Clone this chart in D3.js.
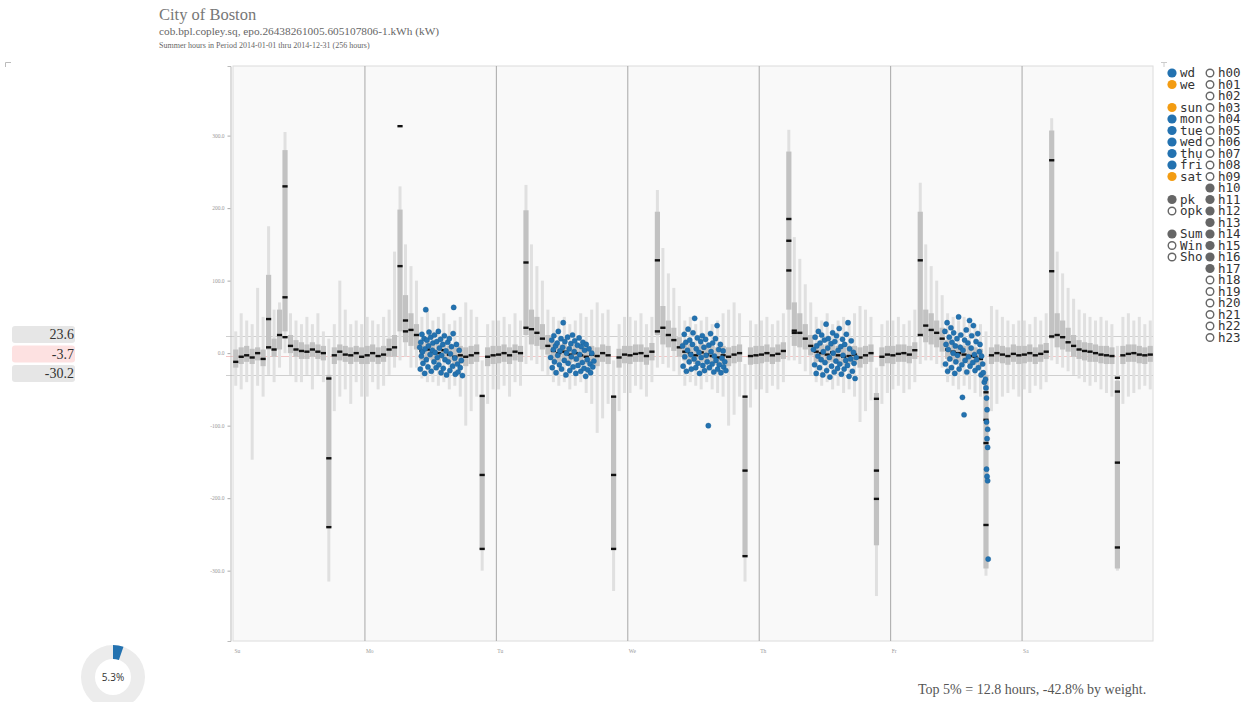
<!DOCTYPE html>
<html><head><meta charset="utf-8">
<script src="https://cdn.jsdelivr.net/npm/d3@7"></script>
<style>body{margin:0;background:#fff;overflow:hidden}</style>
</head><body><svg id="c" width="1254" height="702"></svg>
<script>
// ---------------- data ----------------
const dayLabels = ["Su","Mo","Tu","We","Th","Fr","Sa"];
const yTicks = [-300,-200,-100,0,100,200,300];
const refValues = [23.6, -3.7, -30.2];
const titleLines = ["City of Boston","cob.bpl.copley.sq, epo.26438261005.605107806-1.kWh (kW)","Summer hours in Period 2014-01-01 thru 2014-12-31 (256 hours)"];
const footText = "Top 5% = 12.8 hours, -42.8% by weight.";
const donutShare = 0.053;

// 168 hours of the week (Su h00 .. Sa h23)
const median = [
 -12,-5,-3,-6,0,-8,47,5,25,230,10,5,3,2,5,2,0,-145,-3,2,-2,-3,0,-5,
 -3,0,-4,-2,5,8,120,45,32,25,3,5,2,0,4,-2,-5,-3,-5,-3,0,-168,-5,-3,
 -2,0,-3,2,0,125,33,28,20,10,3,0,2,-2,0,-3,-5,-2,-4,0,-3,-168,-6,-2,
 -3,-1,0,-4,2,128,35,25,18,8,2,0,-3,1,-2,-4,-6,-3,-5,-2,0,-162,-4,-3,
 -2,0,-3,-1,3,185,31,28,20,10,2,0,-2,1,-3,-5,-4,-2,-6,-3,0,-162,-5,-2,
 -3,-1,0,-2,4,128,38,32,28,20,5,2,0,-2,-4,-5,-8,-124,-3,0,-2,-4,-1,-3,
 -2,0,-3,-1,2,113,25,22,15,10,5,3,2,0,-2,-3,-4,-151,-3,-1,0,-2,-3,-2
];
const q1 = [
 -20,-15,-12,-15,-10,-18,5,-5,5,30,0,-5,-8,-8,-5,-8,-10,-240,-15,-10,-12,-15,-12,-15,
 -15,-12,-15,-12,-5,-5,30,15,10,5,-10,-8,-10,-12,-8,-12,-15,-15,-18,-15,-12,-270,-18,-15,
 -14,-12,-15,-10,-12,25,12,10,5,-2,-10,-12,-10,-14,-12,-15,-15,-14,-18,-12,-15,-270,-20,-14,
 -15,-12,-12,-16,-10,25,12,8,3,-5,-10,-12,-15,-12,-14,-15,-16,-15,-18,-14,-12,-280,-16,-15,
 -14,-12,-15,-12,-8,60,10,8,5,-3,-12,-12,-14,-12,-15,-16,-15,-15,-20,-15,-12,-265,-18,-14,
 -15,-12,-12,-14,-8,25,15,12,8,2,-8,-10,-12,-14,-15,-16,-18,-297,-15,-12,-14,-16,-12,-15,
 -14,-12,-15,-12,-8,20,8,5,2,-5,-8,-10,-12,-12,-14,-15,-15,-297,-15,-12,-12,-14,-15,-12
];
const q3 = [
 5,8,10,6,8,5,108,20,60,280,25,18,15,12,15,12,10,-30,8,12,10,8,10,8,
 10,12,8,10,20,25,198,80,55,40,15,18,15,12,15,10,8,10,8,10,12,-59,8,10,
 10,12,8,12,10,197,60,50,40,25,15,12,14,10,12,10,8,10,8,12,10,-59,6,10,
 10,12,12,8,14,195,65,45,35,22,15,12,10,14,12,10,8,10,8,10,12,-62,8,10,
 10,12,8,12,15,278,70,55,40,25,14,12,12,14,10,8,10,10,8,10,12,-55,8,10,
 10,12,12,10,15,195,60,55,45,35,18,14,12,10,10,8,6,-30,8,12,10,8,12,10,
 10,12,8,12,14,307,55,45,35,25,18,15,14,12,10,10,8,-38,10,12,12,10,8,10
];
const whiskerLo = [
 -45,-50,-40,-147,-45,-60,-30,-40,-20,0,-30,-40,-40,-30,-50,-30,-40,-315,-80,-60,-50,-70,-40,-60,
 -60,-40,-50,-45,-30,-20,-10,-5,-20,-20,-35,-40,-40,-45,-40,-50,-45,-60,-100,-80,-60,-300,-70,-50,
 -50,-45,-60,-40,-45,-15,-10,-15,-25,-30,-40,-45,-40,-50,-45,-40,-55,-70,-110,-90,-70,-328,-80,-55,
 -55,-45,-50,-60,-40,-20,-15,-20,-25,-30,-45,-40,-45,-50,-40,-50,-55,-60,-100,-85,-60,-315,-75,-50,
 -50,-55,-45,-50,-40,-10,-10,-15,-25,-30,-40,-45,-40,-50,-45,-55,-50,-60,-95,-80,-65,-335,-70,-55,
 -50,-45,-55,-50,-40,-15,-10,-10,-15,-20,-40,-45,-50,-45,-50,-55,-60,-307,-80,-70,-60,-55,-50,-60,
 -50,-55,-45,-50,-40,-10,-15,-20,-25,-30,-35,-40,-45,-40,-50,-55,-60,-300,-70,-60,-55,-50,-45,-50
];
const whiskerHi = [
 30,55,45,40,90,50,175,60,70,305,55,45,40,50,40,55,30,20,40,100,60,40,45,40,
 50,45,40,50,60,140,230,150,120,100,50,60,45,50,55,40,45,50,70,60,50,-10,40,45,
 45,50,40,55,45,232,150,120,100,60,50,45,50,40,45,55,50,60,70,55,60,-10,40,50,
 50,45,55,40,50,225,145,110,90,65,45,50,40,45,50,40,45,55,60,70,55,-15,45,40,
 45,50,40,45,55,308,160,130,95,70,50,45,55,40,45,50,45,55,65,60,50,-20,40,45,
 45,50,40,45,60,235,150,120,100,80,55,50,45,50,45,40,40,30,65,60,50,45,40,45,
 45,40,50,45,55,324,140,110,90,75,60,55,50,45,50,45,40,10,50,55,45,50,40,45
];
// additional median marks [hourOfWeek, value]
const extraMarks = [
 [6,8],[9,77],[9,22],[17,-35],[17,-240],
 [30,313],[31,30],[45,-59],[45,-270],
 [53,35],[69,-60],[69,-270],
 [77,30],[93,-60],[93,-280],
 [101,155],[101,114],[102,28],[117,-63],[117,-201],
 [125,25],[137,-54],[137,-92],[137,-237],
 [149,266],[149,23],[161,-34],[161,-53],[161,-268]
];

// selected hours (weekdays, h10-h17): [hour of day, value]
const dotsMo = [[10.1,8],[10.2,-22],[10.3,15],[10.4,-4],[10.5,26],[10.6,2],[10.7,-14],[10.9,20],[11.0,-28],[11.1,6],[11.2,60],[11.3,-9],[11.4,18],[11.6,-19],[11.7,10],[11.8,29],[12.0,-2],[12.1,22],[12.2,-25],[12.4,4],[12.5,14],[12.7,-12],[12.8,25],[12.9,1],[13.1,-20],[13.2,16],[13.3,-6],[13.5,30],[13.6,-16],[13.7,7],[13.9,19],[14.0,-27],[14.1,-3],[14.3,12],[14.4,-21],[14.6,24],[14.7,-9],[14.9,3],[15.0,-30],[15.2,15],[15.3,-12],[15.5,20],[15.6,-24],[15.7,-1],[15.9,9],[16.1,-18],[16.2,27],[16.3,63],[16.5,-7],[16.6,-29],[16.8,12],[17.0,-15],[17.1,-26],[17.3,4],[17.5,-20],[17.7,-10],[17.9,-31]];
const dotsTu = [[10.0,-6],[10.2,18],[10.3,-20],[10.5,5],[10.6,24],[10.7,-12],[10.9,10],[11.0,-27],[11.2,14],[11.3,-3],[11.4,30],[11.6,-16],[11.7,3],[11.9,20],[12.0,-22],[12.2,8],[12.3,42],[12.5,-10],[12.6,16],[12.8,-30],[12.9,0],[13.1,22],[13.2,-14],[13.4,6],[13.5,-24],[13.7,13],[13.8,-5],[14.0,25],[14.1,-19],[14.3,2],[14.4,17],[14.6,-28],[14.7,-8],[14.9,11],[15.0,-17],[15.2,21],[15.3,-2],[15.5,-25],[15.6,9],[15.8,-13],[15.9,15],[16.1,-21],[16.2,4],[16.4,-32],[16.5,12],[16.7,-9],[16.8,-23],[17.0,6],[17.2,-15],[17.3,-27],[17.5,0],[17.7,-19],[17.9,-11]];
const dotsWe = [[10.1,10],[10.2,-18],[10.4,26],[10.5,-5],[10.7,15],[10.8,-25],[11.0,4],[11.1,33],[11.3,-12],[11.4,18],[11.6,-2],[11.7,-22],[11.9,12],[12.0,28],[12.2,-8],[12.3,48],[12.5,-20],[12.6,6],[12.8,21],[12.9,-14],[13.1,1],[13.2,-28],[13.4,16],[13.5,-6],[13.7,24],[13.8,-17],[14.0,8],[14.1,-24],[14.3,19],[14.4,-3],[14.6,-12],[14.8,-100],[14.9,11],[15.0,-20],[15.2,27],[15.3,2],[15.5,-15],[15.6,14],[15.8,-26],[15.9,-4],[16.1,20],[16.2,-10],[16.4,38],[16.5,-22],[16.7,5],[16.8,-16],[17.0,12],[17.1,-27],[17.3,-7],[17.5,3],[17.6,-19],[17.8,-12],[18.0,-24]];
const dotsTh = [[10.0,5],[10.2,-16],[10.3,22],[10.5,-28],[10.6,10],[10.8,-4],[10.9,30],[11.1,-20],[11.2,14],[11.4,-9],[11.5,25],[11.7,-30],[11.8,2],[12.0,18],[12.1,-13],[12.3,40],[12.4,-24],[12.6,7],[12.7,20],[12.9,-6],[13.0,-33],[13.2,13],[13.3,-18],[13.5,28],[13.6,0],[13.8,-26],[13.9,16],[14.1,-11],[14.2,24],[14.4,-21],[14.5,4],[14.7,34],[14.8,-15],[15.0,9],[15.1,-29],[15.3,19],[15.4,-3],[15.6,-22],[15.7,12],[15.9,-10],[16.0,26],[16.2,-17],[16.3,42],[16.5,-32],[16.6,6],[16.8,-8],[16.9,17],[17.1,-25],[17.3,1],[17.4,-14],[17.6,-35],[17.8,-6]];
const dotsFr = [[10.0,30],[10.1,-15],[10.2,12],[10.4,42],[10.5,-25],[10.6,5],[10.8,22],[10.9,-8],[11.1,35],[11.2,-20],[11.3,15],[11.5,0],[11.6,28],[11.8,-28],[11.9,10],[12.0,-12],[12.2,20],[12.3,-3],[12.5,50],[12.6,-22],[12.8,8],[12.9,25],[13.1,-16],[13.2,-61],[13.3,4],[13.5,-85],[13.6,18],[13.7,-10],[13.9,32],[14.0,-26],[14.2,14],[14.3,-5],[14.5,45],[14.6,-18],[14.8,7],[14.9,24],[15.1,-13],[15.2,38],[15.4,-2],[15.5,-24],[15.7,16],[15.8,-9],[16.0,27],[16.1,-20],[16.3,2],[16.4,12],[16.6,-30],[16.7,-4],[16.9,-15],[17.0,-27],[17.2,-40],[17.4,-36],[17.5,-48],[17.6,-62],[17.7,-78],[17.6,-95],[17.8,-105],[17.7,-118],[17.8,-130],[17.6,-160],[17.7,-170],[17.8,-176],[17.9,-284]];

const legendLeft = [
 {row:0,label:"wd",type:"blue"},{row:1,label:"we",type:"orange"},
 {row:3,label:"sun",type:"orange"},{row:4,label:"mon",type:"blue"},{row:5,label:"tue",type:"blue"},
 {row:6,label:"wed",type:"blue"},{row:7,label:"thu",type:"blue"},{row:8,label:"fri",type:"blue"},
 {row:9,label:"sat",type:"orange"},
 {row:11,label:"pk",type:"grey"},{row:12,label:"opk",type:"hollow"},
 {row:14,label:"Sum",type:"grey"},{row:15,label:"Win",type:"hollow"},{row:16,label:"Sho",type:"hollow"}
];
const hourLabels = d3.range(24).map(h => "h" + String(h).padStart(2,"0"));
const selectedHours = [10,11,12,13,14,15,16,17];

// ---------------- drawing ----------------
const svg = d3.select("#c");
const x = d3.scaleLinear().domain([0,168]).range([233,1153]);
const y = d3.scaleLinear().domain([-397,396]).range([641,66]);
const serif = "'Liberation Serif','Times New Roman',serif";

// titles
svg.append("text").attr("x",159).attr("y",20).text(titleLines[0])
  .style("font-family",serif).style("font-size","16.5px").style("fill","#777");
svg.append("text").attr("x",159).attr("y",35).text(titleLines[1])
  .style("font-family",serif).style("font-size","11.3px").style("fill","#666");
svg.append("text").attr("x",159).attr("y",48).text(titleLines[2])
  .style("font-family",serif).style("font-size","8px").style("fill","#666");

// corner marks
svg.append("path").attr("d","M5.5,67V62.5H11").attr("fill","none").attr("stroke","#bbb");
svg.append("path").attr("d","M1161,62.5H1167M1164,62.5V67").attr("fill","none").attr("stroke","#ccc");

// plot background
svg.append("rect").attr("x",x(0)).attr("y",y(396)).attr("width",x(168)-x(0)).attr("height",y(-397)-y(396))
  .attr("fill","#f9f9f9").attr("stroke","#dcdcdc");

// day separators
svg.append("g").selectAll("line").data(d3.range(1,7)).join("line")
  .attr("x1",d=>x(d*24)+0.5).attr("x2",d=>x(d*24)+0.5)
  .attr("y1",y(396)).attr("y2",y(-397)).attr("stroke","#a8a8a8").attr("stroke-width",1);

// reference lines
svg.append("g").selectAll("line").data(refValues).join("line")
  .attr("x1",226).attr("x2",x(168))
  .attr("y1",d=>Math.round(y(d))+0.5).attr("y2",d=>Math.round(y(d))+0.5)
  .attr("stroke",(d,i)=>i===1?"#f3c4c4":"#cfcfcf").attr("stroke-width",1);

const hours = d3.range(168);
// whiskers
svg.append("g").selectAll("rect").data(hours).join("rect")
  .attr("x",i=>x(i+0.5)-1.5).attr("width",3)
  .attr("y",i=>y(whiskerHi[i])).attr("height",i=>Math.max(1,y(whiskerLo[i])-y(whiskerHi[i])))
  .attr("fill","#e0e0e0");
// boxes
svg.append("g").selectAll("rect").data(hours).join("rect")
  .attr("x",i=>x(i+0.5)-2.6).attr("width",5.2)
  .attr("y",i=>y(q3[i])).attr("height",i=>Math.max(1,y(q1[i])-y(q3[i])))
  .attr("fill","#c2c2c2");
// medians
svg.append("g").selectAll("rect").data(hours).join("rect")
  .attr("x",i=>x(i+0.5)-2.6).attr("width",5.2)
  .attr("y",i=>y(median[i])-1.2).attr("height",2.4)
  .attr("fill","#111");
svg.append("g").selectAll("rect").data(extraMarks).join("rect")
  .attr("x",d=>x(d[0]+0.5)-2.6).attr("width",5.2)
  .attr("y",d=>y(d[1])-1.2).attr("height",2.4)
  .attr("fill","#111");

// selected-hour dots
const dotSets = [[1,dotsMo],[2,dotsTu],[3,dotsWe],[4,dotsTh],[5,dotsFr]];
const dg = svg.append("g");
dotSets.forEach(([day,pts]) => {
  dg.append("g").selectAll("circle").data(pts).join("circle")
    .attr("cx",d=>x(day*24 + d[0]))
    .attr("cy",d=>y(d[1]))
    .attr("r",2.6)
    .attr("fill","#2372b0").attr("stroke","#1b5f95").attr("stroke-width",0.4);
});

// y axis
const ya = svg.append("g").attr("transform","translate(230.5,0)")
  .call(d3.axisLeft(y).tickValues(yTicks).tickFormat(d=>d.toFixed(1)).tickSize(3).tickSizeOuter(3));
ya.select(".domain").attr("stroke","#bbb");
ya.selectAll(".tick line").attr("stroke","#aaa");
ya.selectAll("text").style("font-size","5.5px").style("fill","#999").style("font-family",serif);

// x axis labels
const xa = svg.append("g").attr("transform",`translate(0,${y(-397)})`)
  .call(d3.axisBottom(x).tickValues(d3.range(0,168,24)).tickFormat((d,i)=>dayLabels[i]).tickSize(0));
xa.select(".domain").remove();
xa.selectAll("text").attr("dy","9").attr("dx","1").style("text-anchor","start")
  .style("font-size","5.5px").style("fill","#999").style("font-family",serif);

// legend
const mono = "'DejaVu Sans Mono',monospace";
const colorOf = {blue:"#2372b0",orange:"#f39c12",grey:"#666"};
const rowY = r => 73 + r*11.5;
const lg = svg.append("g");
const drawMark = (g,cx,cy,type) => {
  if (type === "hollow") g.append("circle").attr("cx",cx).attr("cy",cy).attr("r",3.8).attr("fill","#fff").attr("stroke","#666").attr("stroke-width",1.4);
  else g.append("circle").attr("cx",cx).attr("cy",cy).attr("r",4.6).attr("fill",colorOf[type]);
};
legendLeft.forEach(d => {
  drawMark(lg,1172,rowY(d.row),d.type);
  lg.append("text").attr("x",1180).attr("y",rowY(d.row)+4.3).text(d.label)
    .style("font-family",mono).style("font-size","12.5px").style("fill","#333");
});
hourLabels.forEach((lab,h) => {
  drawMark(lg,1210,rowY(h), selectedHours.includes(h) ? "grey" : "hollow");
  lg.append("text").attr("x",1218).attr("y",rowY(h)+4.3).text(lab)
    .style("font-family",mono).style("font-size","12.5px").style("fill","#333");
});

// left value boxes
const boxFill = ["#e6e6e6","#fde1e1","#e6e6e6"];
refValues.forEach((v,i) => {
  const by = 326 + i*19.5;
  svg.append("rect").attr("x",12).attr("y",by).attr("width",63).attr("height",17).attr("rx",3)
    .attr("fill",boxFill[i]);
  svg.append("text").attr("x",74).attr("y",by+13).attr("text-anchor","end").text(v.toFixed(1))
    .style("font-family",serif).style("font-size","14px").style("fill","#333");
});

// donut
const arc = d3.arc().innerRadius(18).outerRadius(32);
const dn = svg.append("g").attr("transform","translate(113,677)");
dn.append("path").attr("d",arc({startAngle:0,endAngle:2*Math.PI})).attr("fill","#ececec");
dn.append("path").attr("d",arc({startAngle:0,endAngle:donutShare*2*Math.PI})).attr("fill","#2372b0");
dn.append("text").attr("y",4).attr("text-anchor","middle").text((donutShare*100).toFixed(1)+"%")
  .style("font-family","'Open Sans',sans-serif").style("font-size","10px").style("fill","#333");

// footer
svg.append("text").attr("x",918).attr("y",694).text(footText)
  .style("font-family",serif).style("font-size","14px").style("fill","#555");
</script></body></html>
